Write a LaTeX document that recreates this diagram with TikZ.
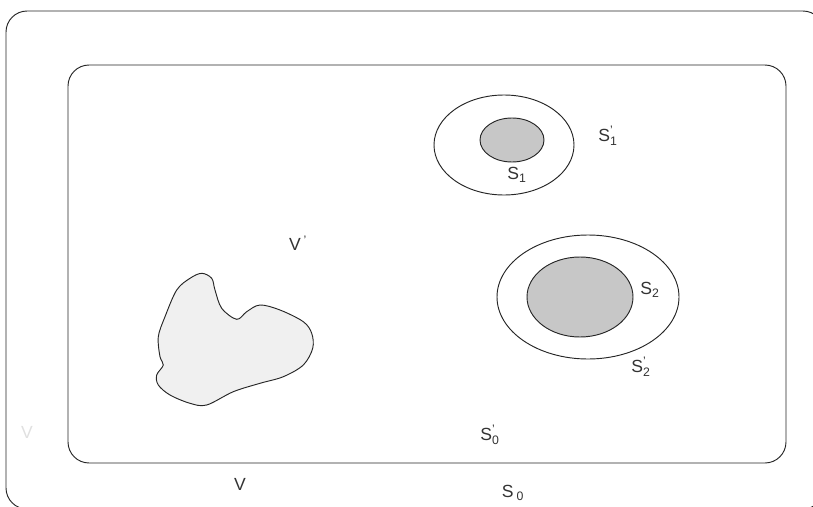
\documentclass[tikz,border=0pt]{standalone}
\usepackage{amsmath}
\usepackage{fontspec}
\setmainfont{Liberation Sans}
\usetikzlibrary{calc, positioning}

\tikzset{
  boundary/.style={draw=black!85, line width=0.8pt},
  lbl/.style={inner sep=0pt, font=\fontsize{15}{17}\selectfont, text=black!80},
}
\newcommand{\sprime}[1]{$\text{S}^{\text{'}}_{\text{#1}}$}

\begin{document}
\begin{tikzpicture}[x=0.03cm, y=-0.03cm]
\useasboundingbox (0,0) rectangle (813,507);
\clip (0,0) rectangle (813,507);

% outer and inner regions
\draw[boundary, rounded corners=18] (6,11) rectangle (824,509);
\draw[boundary, rounded corners=18] (68,65) rectangle (786,463);

% the two nested sets
\draw[boundary] (504,145) ellipse [x radius=70, y radius=50];
\draw[boundary, fill=black!22] (512,140) ellipse [x radius=32, y radius=22];
\draw[boundary] (588,297) ellipse [x radius=91, y radius=62];
\draw[boundary, fill=black!22] (580,297) ellipse [x radius=53, y radius=40];

% the blob
\draw[boundary, fill=black!6] plot[smooth cycle, tension=0.55] coordinates {
  (201.7,273.3) (211.7,278.3) (215,290) (221.7,308.3) (236.7,319.3)
  (246.7,311.7) (260,305) (280,310) (303.3,321.7) (311.7,333.3)
  (312.7,348.3) (303.3,365) (283.3,376.7) (260,383.3) (233.3,391.7)
  (206.7,405) (190,403.3) (170,395) (158.3,385) (156.7,375)
  (163.3,365) (160,356.7) (158.3,336.7) (165,316.7) (176.7,290)
  (190,278.3)};

% labels
\node[lbl, text=black!12] (vfaint) at (27,432) {V};
\node[lbl] (v) at (240,484) {V};
\node[lbl] (vprime) at (298,243) {V\,\textsuperscript{'}};
\node[lbl] (s0) at (513,493) {S\,\textsubscript{0}};
\node[lbl] (s0p) at (490,435) {\sprime{0}};
\node[lbl] (s1) at (517,175) {S\textsubscript{1}};
\node[lbl] (s1p) at (608,136) {\sprime{1}};
\node[lbl] (s2) at (650,290) {S\textsubscript{2}};
\node[lbl] (s2p) at (641,367) {\sprime{2}};
\end{tikzpicture}
\end{document}
